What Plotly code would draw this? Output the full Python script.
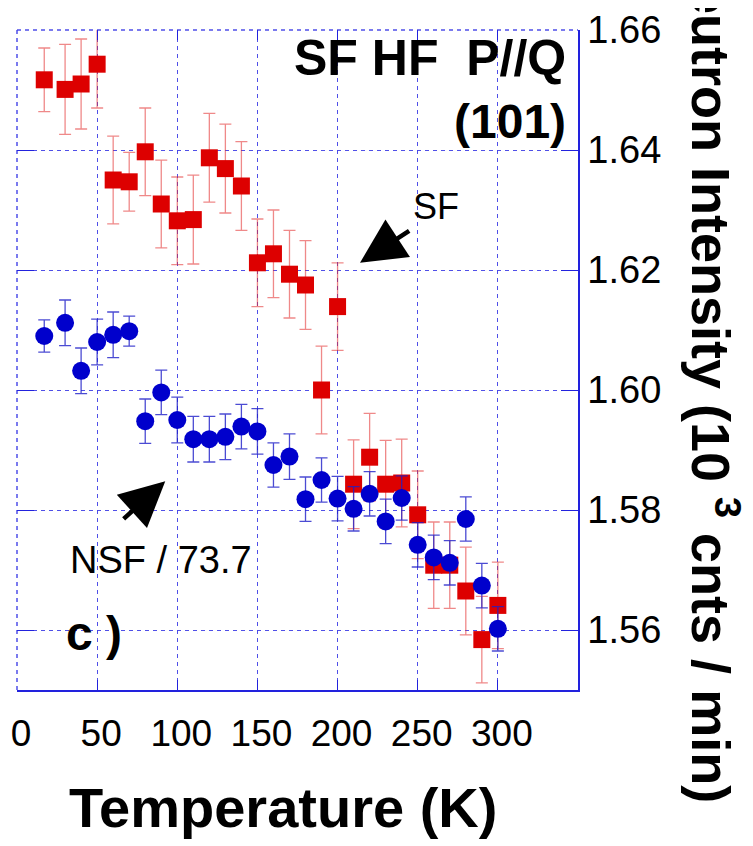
import plotly.graph_objects as go

# ---- data ----
temperature = [17, 30, 40, 50, 60, 70, 80, 90, 100, 110, 120, 130, 140, 150, 160,
               170, 180, 190, 200, 210, 220, 230, 240, 250, 260, 270, 280, 290, 300]

sf_intensity = [1.6517, 1.6501, 1.6510, 1.6543, 1.6350, 1.6347, 1.6397, 1.6310, 1.6282,
                1.6284, 1.6387, 1.6369, 1.6340, 1.6212, 1.6227, 1.6193, 1.6175, 1.6000,
                1.6139, 1.5843, 1.5888, 1.5843, 1.5845, 1.5792, 1.5708, 1.5708, 1.5665,
                1.5584, 1.5641]
sf_error = [0.0053, 0.0075, 0.0075, 0.0073, 0.0073, 0.0049, 0.0073, 0.0073, 0.0073,
            0.0074, 0.0074, 0.0074, 0.0074, 0.0073, 0.0073, 0.0073, 0.0074, 0.0073,
            0.0073, 0.0074, 0.0073, 0.0073, 0.0073, 0.0073, 0.0072, 0.0072, 0.0073,
            0.0072, 0.0072]

nsf_intensity = [1.6090, 1.6112, 1.6032, 1.6080, 1.6092, 1.6098, 1.5948, 1.5996, 1.5950,
                 1.5918, 1.5918, 1.5922, 1.5939, 1.5931, 1.5875, 1.5889, 1.5818, 1.5850,
                 1.5819, 1.5802, 1.5827, 1.5781, 1.5820, 1.5742, 1.5721, 1.5712, 1.5785,
                 1.5674, 1.5602]
nsf_error = [0.0027, 0.0038, 0.0038, 0.0038, 0.0038, 0.0025, 0.0037, 0.0037, 0.0038,
             0.0038, 0.0038, 0.0038, 0.0037, 0.0038, 0.0037, 0.0038, 0.0037, 0.0037,
             0.0037, 0.0037, 0.0037, 0.0037, 0.0037, 0.0037, 0.0037, 0.0037, 0.0037,
             0.0037, 0.0037]

x_tickvals = [0, 50, 100, 150, 200, 250, 300, 350]
x_ticktext = ["0", "50", "100", "150", "200", "250", "300", " "]
y_tickvals = [1.56, 1.58, 1.60, 1.62, 1.64, 1.66]
y_ticktext = ["1.56", "1.58", "1.60", "1.62", "1.64", "1.66"]

FONT = "Liberation Sans, Arial, Helvetica, sans-serif"
BLUE_AX = "#2222dd"
GRID = "rgba(60,60,230,0.9)"

fig = go.Figure()

fig.add_trace(go.Scatter(
    x=temperature, y=sf_intensity, mode="markers", name="SF",
    marker=dict(symbol="square", size=17, color="#dd0000", line=dict(width=0)),
    error_y=dict(type="data", array=sf_error, visible=True,
                 color="rgba(225,40,40,0.55)", thickness=1.3, width=6),
    showlegend=False))

fig.add_trace(go.Scatter(
    x=temperature, y=nsf_intensity, mode="markers", name="NSF / 73.7",
    marker=dict(symbol="circle", size=18, color="#0000cc", line=dict(width=0)),
    error_y=dict(type="data", array=nsf_error, visible=True,
                 color="rgba(30,30,200,0.8)", thickness=1.3, width=6),
    showlegend=False))

# dummy trace so that the mirrored tick axes (top / left) are drawn
fig.add_trace(go.Scatter(x=[None], y=[None], xaxis="x2", yaxis="y2",
                         mode="markers", showlegend=False, hoverinfo="skip"))

fig.update_layout(
    width=745, height=838,
    margin=dict(l=9, r=175, t=22, b=156, autoexpand=False),
    paper_bgcolor="white", plot_bgcolor="white",
    font=dict(family=FONT, color="black"),
    xaxis=dict(range=[0, 350], tickmode="array", tickvals=x_tickvals, ticktext=x_ticktext,
               showgrid=True, gridcolor=GRID, gridwidth=1, griddash="4px,4px",
               zeroline=False, showline=True, linecolor=BLUE_AX, linewidth=1.5,
               ticks="inside", ticklen=10, tickcolor=BLUE_AX, tickwidth=1,
               tickfont=dict(size=37, family=FONT, color="black"),
               ticklabelstandoff=10, ticklabelshift=4, ticklabeloverflow="allow",
               automargin=False),
    yaxis=dict(range=[1.55, 1.66], side="right", tickmode="array",
               tickvals=y_tickvals, ticktext=y_ticktext,
               showgrid=True, gridcolor=GRID, gridwidth=1, griddash="4px,4px",
               zeroline=False, showline=True, linecolor=BLUE_AX, linewidth=1.5,
               ticks="inside", ticklen=17, tickcolor=BLUE_AX, tickwidth=1,
               tickfont=dict(size=38, family=FONT, color="black"),
               ticklabelstandoff=0, ticklabeloverflow="allow", automargin=False),
    xaxis2=dict(range=[0, 350], overlaying="x", side="top", tickmode="array",
                tickvals=x_tickvals, showticklabels=False, showgrid=False,
                zeroline=False, showline=False, ticks="inside", ticklen=10,
                tickcolor=BLUE_AX, tickwidth=1, automargin=False),
    yaxis2=dict(range=[1.55, 1.66], overlaying="y", side="left", tickmode="array",
                tickvals=y_tickvals, showticklabels=False, showgrid=False,
                zeroline=False, showline=False, ticks="inside", ticklen=17,
                tickcolor=BLUE_AX, tickwidth=1, automargin=False),
    shapes=[
        # dashed left and top frame edges, as in the reference
        dict(type="line", xref="paper", yref="paper", x0=0, x1=0, y0=0, y1=1,
             line=dict(color=GRID, width=1.5, dash="4px,4px"), layer="below"),
        dict(type="line", xref="paper", yref="paper", x0=0, x1=1, y0=1, y1=1,
             line=dict(color=GRID, width=1.5, dash="4px,4px"), layer="below"),
    ],
)

annotations = [
    dict(text="Temperature (K)", xref="paper", yref="paper", x=0.475, y=-0.178,
         xanchor="center", yanchor="middle", showarrow=False,
         font=dict(size=56, family=FONT, color="black", weight="bold")),
    dict(text="Neutron Intensity (10 <sup>3</sup> cnts / min)", xref="paper", yref="paper",
         x=1.244, y=0.479, xanchor="center", yanchor="middle", textangle=90,
         showarrow=False, font=dict(size=54, family=FONT, color="black", weight="bold")),
    dict(text="SF HF  P//Q", xref="paper", yref="paper", x=0.982, y=0.958,
         xanchor="right", yanchor="middle", showarrow=False,
         font=dict(size=50, family=FONT, color="black", weight="bold")),
    dict(text="(101)", xref="paper", yref="paper", x=0.982, y=0.862,
         xanchor="right", yanchor="middle", showarrow=False,
         font=dict(size=48, family=FONT, color="black", weight="bold")),
    dict(text="SF", xref="paper", yref="paper", x=0.747, y=0.732,
         xanchor="center", yanchor="middle", showarrow=False,
         font=dict(size=36, family=FONT, color="black")),
    dict(text="NSF / 73.7", xref="paper", yref="paper", x=0.091, y=0.197,
         xanchor="left", yanchor="middle", showarrow=False,
         font=dict(size=38, family=FONT, color="black")),
    dict(text="c )", xref="paper", yref="paper", x=0.084, y=0.085,
         xanchor="left", yanchor="middle", showarrow=False,
         font=dict(size=48, family=FONT, color="black", weight="bold")),
    # arrows
    dict(text="", x=214, y=1.6212, ax=245.6, ay=1.6267, xref="x", yref="y",
         axref="x", ayref="y", showarrow=True, arrowhead=2, arrowsize=2,
         arrowwidth=4.5, arrowcolor="black"),
    dict(text="", x=92.5, y=1.5848, ax=65.6, ay=1.5783, xref="x", yref="y",
         axref="x", ayref="y", showarrow=True, arrowhead=2, arrowsize=2,
         arrowwidth=4.5, arrowcolor="black"),
]
fig.update_layout(annotations=annotations)

fig.write_html("out.html")
